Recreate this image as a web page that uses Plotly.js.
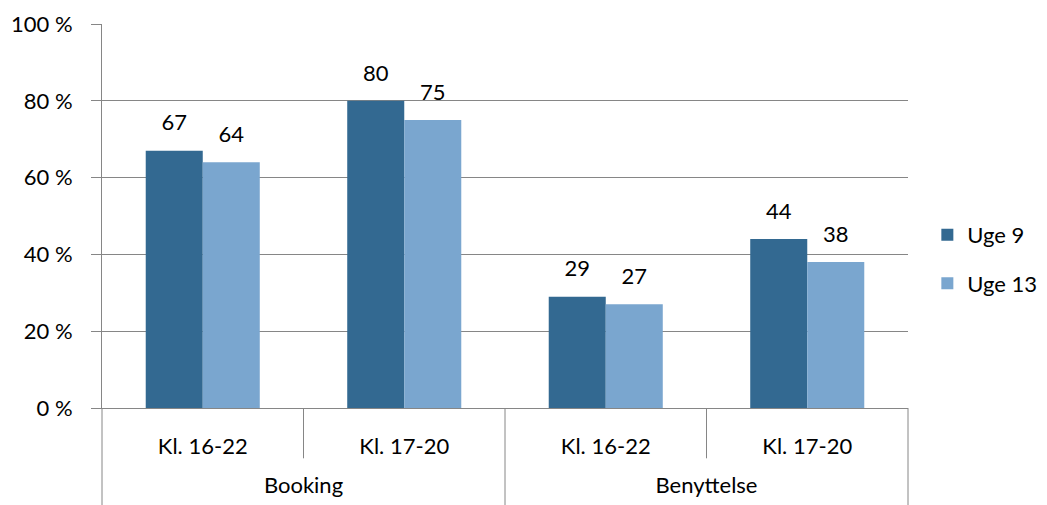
<!DOCTYPE html>
<html>
<head>
<meta charset="utf-8">
<script src="https://cdn.plot.ly/plotly-3.0.1.min.js"></script>
<style>html,body{margin:0;padding:0;background:#fff;}#chart{width:1047px;height:505px;}</style>
</head>
<body>
<div id="chart"></div>
<script>
const groups = ["Booking", "Booking", "Benyttelse", "Benyttelse"];
const periods = ["Kl. 16-22", "Kl. 17-20", "Kl. 16-22", "Kl. 17-20"];
const seriesNames = ["Uge 9", "Uge 13"];
const uge9 = [67, 80, 29, 44];
const uge13 = [64, 75, 27, 38];
const colors = ["#336991", "#7AA6CF"];

const fontFam = "Lato, 'Open Sans', sans-serif";
const FS = 22;
const gridCol = "#868686";
const xCats = [groups.map(g => "<br>" + g), periods];

const bars = [uge9, uge13].map((vals, i) => ({
  type: "bar",
  name: seriesNames[i],
  legendgroup: "g" + i,
  offsetgroup: "s" + i,
  x: xCats,
  y: vals,
  marker: {color: colors[i], line: {width: 0}},
  hoverinfo: "skip"
}));

const labels = [uge9, uge13].map((vals, i) => ({
  type: "scatter",
  mode: "markers+text",
  showlegend: false,
  offsetgroup: "s" + i,
  x: xCats,
  y: vals,
  text: vals.map(String),
  textposition: "top center",
  textfont: {family: fontFam, size: FS, color: "#000"},
  marker: {size: 22, opacity: 0},
  cliponaxis: false,
  hoverinfo: "skip"
}));

const bounds = [0, 0.25, 0.5, 0.75, 1];
const shapes = bounds.map((b, i) => ({
  type: "line", xref: "paper", yref: "paper",
  x0: b, x1: b, y0: 0, y1: (i % 2 === 0) ? -0.26 : -0.131,
  line: {color: gridCol, width: 1}
}));

const layout = {
  width: 1047, height: 505,
  margin: {l: 102, r: 139, t: 24, b: 97, autoexpand: false},
  paper_bgcolor: "#fff", plot_bgcolor: "#fff",
  font: {family: fontFam, size: FS, color: "#000"},
  barmode: "group",
  scattermode: "group",
  bargap: 0.434,
  bargroupgap: 0,
  scattergap: 0.434,
  showlegend: true,
  legend: {x: 1.024, y: 0.387, xanchor: "left", yanchor: "middle",
           bgcolor: "rgba(0,0,0,0)",
           font: {family: fontFam, size: FS, color: "#000"},
           traceorder: "grouped", tracegroupgap: 17, itemwidth: 30},
  shapes: shapes,
  xaxis: {
    type: "multicategory",
    showline: true, linecolor: gridCol, linewidth: 1,
    ticks: "", showdividers: false,
    showgrid: false,
    ticklabelstandoff: 19,
    tickfont: {family: fontFam, size: FS, color: "#000"}
  },
  yaxis: {
    range: [0, 100], dtick: 20, tick0: 0,
    ticksuffix: " %",
    showline: true, linecolor: gridCol, linewidth: 1,
    ticks: "outside", ticklen: 10, tickcolor: gridCol,
    gridcolor: gridCol, gridwidth: 1,
    zeroline: false,
    tickfont: {family: fontFam, size: FS, color: "#000"},
    ticklabelstandoff: 14
  }
};

Plotly.newPlot("chart", bars.concat(labels), layout, {displayModeBar: false, staticPlot: true});
</script>
</body>
</html>
